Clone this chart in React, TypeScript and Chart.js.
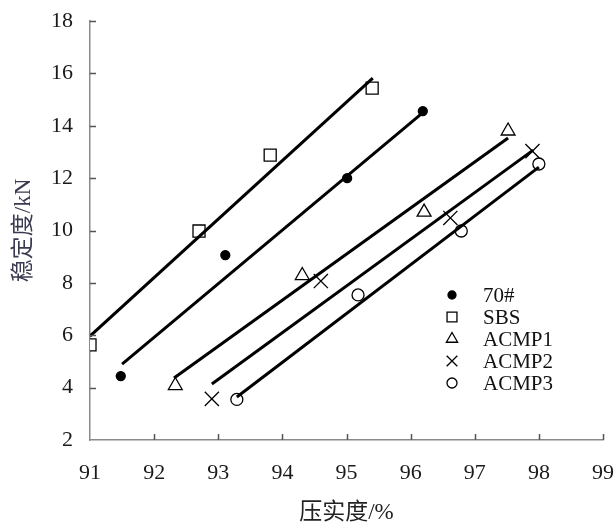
import React, { useEffect, useRef } from "react";
import { Chart, registerables } from "chart.js";
import { drawPoint } from "chart.js/helpers";

Chart.register(...registerables);

// ---- data ----
const seriesNames = ["70#", "SBS", "ACMP1", "ACMP2", "ACMP3"];

const x70 = [91.48, 93.11, 95.01, 96.19];
const y70 = [4.44, 9.06, 12.0, 14.56];
const xSBS = [91.0, 92.7, 93.81, 95.4];
const ySBS = [5.63, 9.98, 12.88, 15.44];
const xA1 = [92.33, 94.31, 96.21, 97.52];
const yA1 = [4.08, 8.28, 10.7, 13.8];
const xA2 = [92.9, 94.6, 96.62, 97.9];
const yA2 = [3.57, 8.07, 10.48, 13.03];
const xA3 = [93.29, 95.18, 96.79, 98.0];
const yA3 = [3.55, 7.54, 9.98, 12.54];

// fitted line end points [x0, x1], [y0, y1]
const fit70X = [91.5, 96.2];
const fit70Y = [4.9, 14.52];
const fitSBSX = [91.0, 95.41];
const fitSBSY = [5.97, 15.82];
const fitA1X = [92.31, 97.52];
const fitA1Y = [4.37, 13.53];
const fitA2X = [92.9, 97.91];
const fitA2Y = [4.14, 13.07];
const fitA3X = [93.29, 98.0];
const fitA3Y = [3.64, 12.42];

const xTicks = [91, 92, 93, 94, 95, 96, 97, 98, 99];
const yTicks = [2, 4, 6, 8, 10, 12, 14, 16, 18];

const xTitle = "压实度/%";
const yTitle = "稳定度/kN";

const zip = (xs: number[], ys: number[]) => xs.map((x, i) => ({ x, y: ys[i] }));

const markerStyles = [
  { pointStyle: "circle", radius: 4.5, fill: "#000", legendRadius: 4 },
  { pointStyle: "rect", radius: 8.5, fill: "#fff", legendRadius: 7 },
  { pointStyle: "triangle", radius: 8, fill: "#fff", legendRadius: 6.5 },
  { pointStyle: "crossRot", radius: 10, fill: "#fff", legendRadius: 7.5 },
  { pointStyle: "circle", radius: 6, fill: "#fff", legendRadius: 5 },
];

const SERIF = "'Liberation Serif', 'Times New Roman', 'Noto Sans CJK SC', serif";

const innerTicks = {
  id: "innerTicks",
  afterDraw(chart: any) {
    const ctx = chart.ctx;
    const xs = chart.scales.x;
    const ys = chart.scales.y;
    const area = chart.chartArea;
    ctx.save();
    ctx.strokeStyle = "#555";
    ctx.lineWidth = 1.5;
    ctx.beginPath();
    xTicks.forEach((t) => {
      if (t === xTicks[0]) return;
      const px = Math.round(xs.getPixelForValue(t)) + 0.5;
      ctx.moveTo(px, area.bottom);
      ctx.lineTo(px, area.bottom - 6);
    });
    yTicks.forEach((t) => {
      if (t === yTicks[0]) return;
      const py = Math.round(ys.getPixelForValue(t)) + 0.5;
      ctx.moveTo(area.left, py);
      ctx.lineTo(area.left + 6, py);
    });
    ctx.stroke();
    ctx.restore();
  },
};

const customLegend = {
  id: "customLegend",
  afterDraw(chart: any) {
    const ctx = chart.ctx;
    const area = chart.chartArea;
    const mx = area.left + 362;
    const tx = area.left + 393;
    const y0 = area.top + 274;
    const step = 22;
    ctx.save();
    ctx.font = `21px ${SERIF}`;
    ctx.textBaseline = "middle";
    ctx.textAlign = "left";
    seriesNames.forEach((name, i) => {
      const m = markerStyles[i];
      const y = y0 + i * step;
      ctx.fillStyle = m.fill;
      ctx.strokeStyle = "#000";
      ctx.lineWidth = 1.3;
      drawPoint(ctx, { pointStyle: m.pointStyle, radius: m.legendRadius, rotation: 0, borderWidth: 1.3 } as any, mx, y);
      ctx.fillStyle = "#111";
      ctx.fillText(name, tx, y + 1);
    });
    ctx.restore();
  },
};

export default function App() {
  const ref = useRef<HTMLCanvasElement | null>(null);

  useEffect(() => {
    if (!ref.current) return;
    const pts = [zip(x70, y70), zip(xSBS, ySBS), zip(xA1, yA1), zip(xA2, yA2), zip(xA3, yA3)];
    const fits = [
      zip(fit70X, fit70Y),
      zip(fitSBSX, fitSBSY),
      zip(fitA1X, fitA1Y),
      zip(fitA2X, fitA2Y),
      zip(fitA3X, fitA3Y),
    ];
    const datasets: any[] = [];
    seriesNames.forEach((name, i) => {
      const m = markerStyles[i];
      datasets.push({
        label: name,
        data: pts[i],
        showLine: false,
        pointStyle: m.pointStyle,
        pointRadius: m.radius,
        pointBackgroundColor: m.fill,
        pointBorderColor: "#000",
        pointBorderWidth: 1.3,
        order: 2,
      });
      datasets.push({
        label: name + " fit",
        data: fits[i],
        showLine: true,
        borderColor: "#000",
        borderWidth: 3,
        pointRadius: 0,
        fill: false,
        order: 1,
      });
    });

    const chart = new Chart(ref.current, {
      type: "scatter",
      data: { datasets },
      options: {
        animation: false,
        responsive: false,
        devicePixelRatio: 1,
        layout: { autoPadding: false, padding: { top: 21, right: 13, left: 0, bottom: 0 } },
        plugins: {
          legend: { display: false },
          tooltip: { enabled: false },
        },
        scales: {
          x: {
            type: "linear",
            min: 91,
            max: 99,
            afterBuildTicks: (s: any) => {
              s.ticks = xTicks.map((v) => ({ value: v }));
            },
            afterFit: (s: any) => {
              s.height = 83;
            },
            ticks: {
              color: "#1a1a1a",
              font: { family: SERIF, size: 22 },
              padding: 0,
              maxRotation: 0,
              autoSkip: false,
            },
            grid: { display: false, drawTicks: true, tickLength: 20, tickColor: "rgba(0,0,0,0)" },
            border: { display: true, color: "#8a8a8a", width: 1.5 },
            title: {
              display: true,
              text: xTitle,
              color: "#222",
              font: { family: SERIF, size: 23, lineHeight: 0.85 },
              padding: { top: 0, bottom: 0 },
            },
          },
          y: {
            type: "linear",
            min: 2,
            max: 18,
            afterBuildTicks: (s: any) => {
              s.ticks = yTicks.map((v) => ({ value: v }));
            },
            afterFit: (s: any) => {
              s.width = 90;
            },
            ticks: {
              color: "#1a1a1a",
              font: { family: SERIF, size: 22 },
              padding: 0,
              autoSkip: false,
            },
            grid: { display: false, drawTicks: true, tickLength: 17, tickColor: "rgba(0,0,0,0)" },
            border: { display: true, color: "#8a8a8a", width: 1.5 },
            title: {
              display: true,
              text: yTitle,
              color: "#3a3a50",
              font: { family: SERIF, size: 23, lineHeight: 1 },
              padding: { top: 12, bottom: 0 },
            },
          },
        },
      } as any,
      plugins: [innerTicks, customLegend],
    });
    return () => chart.destroy();
  }, []);

  return (
    <div style={{ position: "absolute", left: 0, top: 0, width: 616, height: 523, background: "#fff" }}>
      <canvas ref={ref} width={616} height={523} style={{ width: 616, height: 523 }} />
    </div>
  );
}
